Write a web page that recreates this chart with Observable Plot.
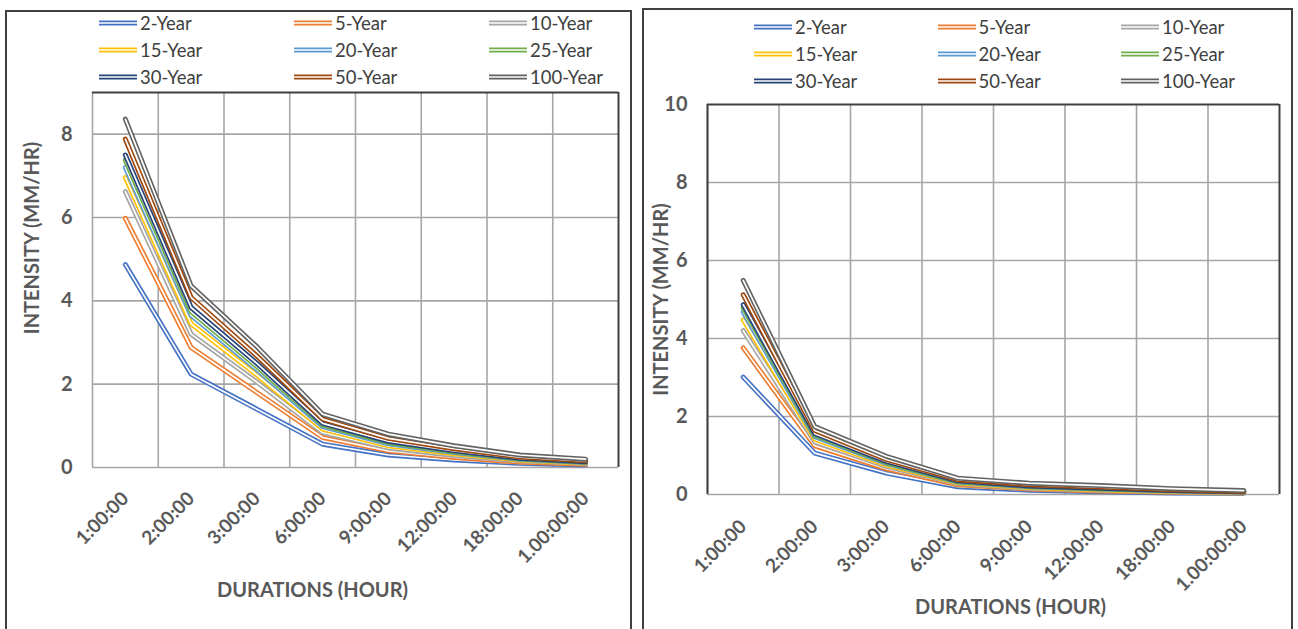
<!DOCTYPE html>
<html>
<head>
<meta charset="utf-8">
<script src="https://cdn.jsdelivr.net/npm/d3@7"></script>
<script src="https://cdn.jsdelivr.net/npm/@observablehq/plot@0.6"></script>
<style>
  body { margin: 0; background: #fff; font-family: Lato, "Open Sans", sans-serif; }
  #page { position: relative; width: 1298px; height: 629px; overflow: hidden; background: #fff; }
  .panel { position: absolute; border: 2px solid #404040; box-sizing: border-box; background: #fff; }
  .legend { position: absolute; display: grid; }
  .legend .item { display: flex; align-items: center; font-size: 18.5px; color: #404040; white-space: nowrap; }
  .legend svg { display: block; margin-right: 3px; }
  .plotwrap { position: absolute; }
</style>
</head>
<body>
<div id="page">
  <div class="panel" id="leftPanel" style="left:5px; top:10px; width:627px; height:621px;"></div>
  <div class="panel" id="rightPanel" style="left:642px; top:8px; width:651px; height:625px;"></div>
  <div class="legend" id="leftLegend"></div>
  <div class="legend" id="rightLegend"></div>
  <div class="plotwrap" id="leftPlot"></div>
  <div class="plotwrap" id="rightPlot"></div>
</div>
<script>
// ---- Categories and series ----
const durations = ["1:00:00", "2:00:00", "3:00:00", "6:00:00", "9:00:00", "12:00:00", "18:00:00", "1.00:00:00"];
const seriesNames = ["2-Year", "5-Year", "10-Year", "15-Year", "20-Year", "25-Year", "30-Year", "50-Year", "100-Year"];
const seriesColors = ["#4472C4", "#ED7D31", "#A5A5A5", "#FFC000", "#5B9BD5", "#70AD47", "#264478", "#9E480E", "#636363"];

// ---- Left chart: intensity (mm/hr) per return period ----
const left2Year   = [4.87, 2.24, 1.40, 0.56, 0.30, 0.18, 0.10, 0.06];
const left5Year   = [5.98, 2.88, 1.80, 0.72, 0.40, 0.24, 0.13, 0.08];
const left10Year  = [6.62, 3.20, 2.05, 0.84, 0.47, 0.29, 0.16, 0.10];
const left15Year  = [6.96, 3.45, 2.22, 0.92, 0.52, 0.33, 0.18, 0.11];
const left20Year  = [7.20, 3.65, 2.35, 0.98, 0.57, 0.36, 0.20, 0.12];
const left25Year  = [7.38, 3.74, 2.42, 1.02, 0.60, 0.38, 0.21, 0.13];
const left30Year  = [7.50, 3.84, 2.50, 1.06, 0.63, 0.40, 0.22, 0.14];
const left50Year  = [7.88, 4.08, 2.68, 1.16, 0.70, 0.45, 0.25, 0.16];
const left100Year = [8.36, 4.36, 2.90, 1.28, 0.80, 0.52, 0.30, 0.20];
const leftYTicks = [0, 2, 4, 6, 8];
const leftYMax = 9;

// ---- Right chart: intensity (mm/hr) per return period ----
const right2Year   = [3.01, 1.06, 0.55, 0.20, 0.11, 0.07, 0.04, 0.03];
const right5Year   = [3.76, 1.25, 0.66, 0.25, 0.14, 0.09, 0.06, 0.04];
const right10Year  = [4.20, 1.35, 0.72, 0.28, 0.16, 0.11, 0.07, 0.05];
const right15Year  = [4.48, 1.42, 0.76, 0.30, 0.18, 0.12, 0.08, 0.05];
const right20Year  = [4.68, 1.48, 0.80, 0.32, 0.20, 0.14, 0.09, 0.06];
const right25Year  = [4.79, 1.52, 0.82, 0.33, 0.21, 0.15, 0.10, 0.07];
const right30Year  = [4.87, 1.56, 0.85, 0.35, 0.22, 0.16, 0.10, 0.07];
const right50Year  = [5.12, 1.64, 0.90, 0.38, 0.25, 0.19, 0.12, 0.08];
const right100Year = [5.49, 1.74, 0.98, 0.42, 0.29, 0.23, 0.15, 0.10];
const rightYTicks = [0, 2, 4, 6, 8, 10];
const rightYMax = 10;

const yTitle = "INTENSITY (MM/HR)";
const xTitle = "DURATIONS (HOUR)";

const leftSeries = [left2Year, left5Year, left10Year, left15Year, left20Year, left25Year, left30Year, left50Year, left100Year];
const rightSeries = [right2Year, right5Year, right10Year, right15Year, right20Year, right25Year, right30Year, right50Year, right100Year];

const TEXT = "#595959";
const GRID = "#a6a6a6";
const BORDER = "#404040";
const FONT = "Lato, 'Open Sans', sans-serif";

function buildLegend(id, left, top, colW, rowH) {
  const el = document.getElementById(id);
  el.style.left = left + "px";
  el.style.top = top + "px";
  el.style.gridTemplateColumns = `repeat(3, ${colW}px)`;
  el.style.gridAutoRows = rowH + "px";
  seriesNames.forEach((name, i) => {
    const item = document.createElement("div");
    item.className = "item";
    item.innerHTML = `<svg width="38" height="10"><line x1="0" x2="38" y1="5" y2="5" stroke="${seriesColors[i]}" stroke-width="5"/><line x1="0" x2="38" y1="5" y2="5" stroke="#fff" stroke-width="1.6"/></svg><span>${name}</span>`;
    el.appendChild(item);
  });
}

function buildPanel(cfg) {
  const n = durations.length;
  const seriesMarks = [];
  cfg.series.forEach((vals, i) => {
    const rows = vals.map((v, j) => ({pos: j + 0.5, v}));
    seriesMarks.push(Plot.line(rows, {x: "pos", y: "v", stroke: seriesColors[i], strokeWidth: 5, strokeLinejoin: "round"}));
    seriesMarks.push(Plot.line(rows, {x: "pos", y: "v", stroke: "#fff", strokeWidth: 1.7, strokeLinejoin: "round"}));
  });
  const borderMarks = [
    Plot.ruleY([cfg.yMax], {stroke: BORDER, strokeWidth: 2}),
    Plot.ruleX([n], {stroke: BORDER, strokeWidth: 2})
  ];
  if (cfg.leftDark) borderMarks.push(Plot.ruleX([0], {stroke: BORDER, strokeWidth: 2}));
  const chart = Plot.plot({
    width: cfg.width,
    height: cfg.height,
    marginLeft: cfg.mL, marginRight: cfg.mR, marginTop: cfg.mT, marginBottom: cfg.mB,
    style: {fontFamily: FONT, background: "transparent", overflow: "visible"},
    x: {type: "linear", domain: [0, n], axis: null},
    y: {domain: [0, cfg.yMax], axis: null},
    marks: [
      Plot.gridY(cfg.yTicks.filter(t => t < cfg.yMax), {stroke: GRID, strokeOpacity: 1, strokeWidth: 1.6}),
      Plot.gridX(d3.range(0, n), {stroke: GRID, strokeOpacity: 1, strokeWidth: 1.6}),
      ...seriesMarks,
      ...borderMarks,
      Plot.text(cfg.yTicks, {y: d => d, frameAnchor: "left", dx: -cfg.tickPad, textAnchor: "end", fontSize: 20, fontWeight: "bold", fill: TEXT}),
      Plot.text(durations, {x: (d, i) => i + 0.5, frameAnchor: "bottom", dy: cfg.xLabDy, rotate: -45, textAnchor: "end", lineAnchor: "middle", fontSize: 19, fontWeight: "bold", fill: TEXT}),
      Plot.text([yTitle], {frameAnchor: "left", rotate: -90, dx: cfg.yTitleDx, dy: cfg.yTitleDy, textAnchor: "middle", lineAnchor: "middle", fontSize: 20, fontWeight: "bold", fill: TEXT}),
      Plot.text([xTitle], {frameAnchor: "bottom", dx: cfg.xTitleDx, dy: cfg.xTitleDy, textAnchor: "middle", lineAnchor: "middle", fontSize: 20, fontWeight: "bold", fill: TEXT})
    ]
  });
  const wrap = document.getElementById(cfg.id);
  wrap.style.left = cfg.left + "px";
  wrap.style.top = cfg.top + "px";
  wrap.appendChild(chart);
}

buildLegend("leftLegend", 99, 9, 195, 27);
buildLegend("rightLegend", 754, 13, 183.5, 27);

buildPanel({
  id: "leftPlot", series: leftSeries, yMax: leftYMax, yTicks: leftYTicks,
  left: 7, top: 84, width: 622, height: 542,
  mL: 85, mR: 11, mT: 8, mB: 159,
  tickPad: 20, xLabDy: 28,
  yTitleDx: -60, yTitleDy: -42,
  xTitleDx: -43, xTitleDy: 123,
  leftDark: false
});

buildPanel({
  id: "rightPlot", series: rightSeries, yMax: rightYMax, yTicks: rightYTicks,
  left: 644, top: 96, width: 647, height: 530,
  mL: 63, mR: 12, mT: 8, mB: 132,
  tickPad: 20, xLabDy: 29,
  yTitleDx: -46, yTitleDy: 0,
  xTitleDx: 17, xTitleDy: 113,
  leftDark: true
});
</script>
</body>
</html>
